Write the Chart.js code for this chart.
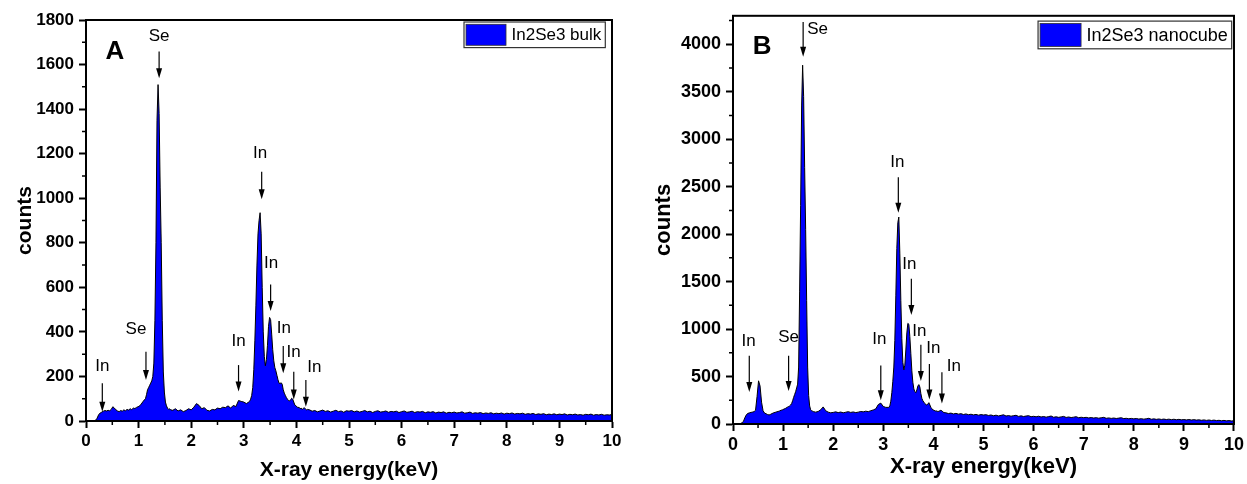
<!DOCTYPE html>
<html>
<head>
<meta charset="utf-8">
<script src="https://cdn.jsdelivr.net/npm/chart.js@4.4.1/dist/chart.umd.min.js"></script>
<style>
  body { margin: 0; background: #fff; }
  #wrap { position: relative; width: 1247px; height: 484px; }
  canvas { position: absolute; top: 0; }
</style>
</head>
<body>
<div id="wrap">
  <canvas id="chartA" width="630" height="484" style="left:0"></canvas>
  <canvas id="chartB" width="617" height="484" style="left:630px"></canvas>
</div>
<script>
// energy grid (keV), finer around the peaks
function range(a, b, step) {
	var out = [];
	var n = Math.round((b - a) / step) + 1;
	for (var i = 0; i < n; i++) out.push(Math.round((a + i * step) * 100) / 100);
	return out;
}
var energyLow  = range(0, 1.11, 0.03);
var energySe   = range(1.13, 1.61, 0.02);
var energyMid  = range(1.65, 3.05, 0.05);
var energyIn   = range(3.11, 4.21, 0.02);
var energyTail = range(4.25, 10, 0.05);

// panel A : In2Se3 bulk
var countsA_low = [0,0,0,0,0,0,3,12,28,36,40,44,47,45,48,46,52,64,58,50,45,42,47,44,50,46,52,49,55,51,58,56,61,64,68,76,86,95];
var countsA_se = [100,118,140,150,160,170,180,200,260,450,800,1350,1510,1380,1050,800,450,220,130,85,68,58,52,55,50];
var countsA_mid = [48,55,45,50,42,47,55,50,62,78,70,55,60,48,45,52,50,58,55,62,60,68,58,70,65,92,88,85,78];
var countsA_in = [88,98,115,150,230,360,520,700,840,900,935,840,600,400,290,248,275,340,425,465,
	455,390,320,270,240,225,205,185,170,168,172,165,140,125,115,105,98,92,90,95,
	102,98,85,72,68,64,60,62,55,58,52,56,60,54,50,52];
var countsA_tail = [50,44,47,41,45,49,43,46,40,44,48,42,45,39,46,44,
	47,41,45,40,43,47,41,44,38,43,46,40,42,45,39,43,41,44,38,42,
	45,39,41,44,38,42,40,43,37,41,39,42,36,40,38,41,35,39,37,40,
	36,38,41,35,37,40,34,37,35,38,33,36,34,37,32,35,33,36,31,35,
	33,36,31,34,32,35,30,33,31,34,29,32,30,33,28,31,29,32,28,31,
	29,32,27,30,28,31,27,29,26,30,28,31,26,29,27,30,26,28,27,29];

// panel B : In2Se3 nanocube
var countsB_low = [0,0,0,0,0,5,12,30,70,100,112,118,122,126,130,145,290,455,400,230,140,115,108,100,95,102,110,118,122,128,132,138,145,150,158,165,175,185];
var countsB_se = [190,200,215,245,280,310,340,380,420,600,1400,2300,3350,3780,3450,2700,2050,1300,600,300,190,150,140,135,130];
var countsB_mid = [125,132,150,180,140,125,118,122,128,120,126,118,124,130,122,127,120,125,132,128,135,130,140,148,160,205,220,185,175];
var countsB_in = [175,190,240,330,450,600,880,1350,1850,2120,2180,1800,1300,900,650,570,620,780,960,1060,
	1050,920,740,560,440,370,340,330,360,400,415,390,320,270,245,230,215,205,200,210,
	225,200,175,160,150,145,140,135,138,130,135,140,145,138,128,120];
var countsB_tail = [118,110,115,106,112,104,109,100,106,98,103,96,101,93,99,95,
	98,90,95,87,93,85,91,97,84,89,82,88,92,80,86,79,84,88,77,81,
	76,82,74,79,72,78,84,71,76,70,75,80,69,74,68,72,77,66,71,67,
	70,64,68,63,67,61,66,70,60,64,59,63,58,62,66,57,60,55,59,54,
	58,52,56,51,55,60,50,54,49,53,48,52,47,51,46,50,45,49,44,47,
	43,47,42,46,41,44,39,43,38,42,37,41,36,39,34,38,33,36,32,34];

var xTicks = [0,1,2,3,4,5,6,7,8,9,10];
var yTicksA = [0,200,400,600,800,1000,1200,1400,1600,1800];
var yTicksB = [0,500,1000,1500,2000,2500,3000,3500,4000];

// annotations: [text, textX, textY, arrowX, arrowFrom, arrowTip]
var notesA = [
	['Se', 1.39, 1725, 1.39, 1659, 1538],
	['In', 3.31, 1201, 3.34, 1119, 995],
	['In', 3.52, 710, 3.51, 613, 494],
	['In', 3.76, 416, 3.75, 337, 214],
	['In', 3.945, 308, 3.95, 221, 97],
	['In', 4.34, 239, 4.18, 184, 64],
	['In', 0.31, 247, 0.31, 169, 42],
	['Se', 0.95, 412, 1.14, 311, 184],
	['In', 2.90, 359, 2.90, 251, 132]
];
var notesB = [
	['Se', 1.69, 4153, 1.40, 4234, 3868],
	['In', 3.28, 2755, 3.30, 2598, 2226],
	['In', 3.52, 1683, 3.56, 1531, 1148],
	['In', 3.72, 981, 3.75, 835, 452],
	['In', 4.00, 800, 3.92, 633, 258],
	['In', 4.41, 605, 4.17, 546, 216],
	['In', 0.31, 869, 0.325, 720, 337],
	['Se', 1.11, 918, 1.11, 720, 347],
	['In', 2.92, 894, 2.95, 616, 250]
];

var FONT = 'Liberation Sans, Arial, sans-serif';

function joinPoints(xs, ys) {
	var pts = [];
	for (var i = 0; i < xs.length; i++) pts.push({x: xs[i], y: ys[i]});
	return pts;
}

var energy = [].concat(energyLow, energySe, energyMid, energyIn, energyTail);
var countsA = [].concat(countsA_low, countsA_se, countsA_mid, countsA_in, countsA_tail);
var countsB = [].concat(countsB_low, countsB_se, countsB_mid, countsB_in, countsB_tail);

var decoPlugin = {
	id: 'deco',
	beforeDatasetsDraw: function(chart) {
		var o = chart.options.plugins.deco;
		var ctx = chart.ctx, xs = chart.scales.x, ys = chart.scales.y;
		ctx.save();
		ctx.fillStyle = '#000';
		ctx.strokeStyle = '#000';
		ctx.textAlign = 'center';
		ctx.textBaseline = 'middle';
		ctx.font = '17px ' + FONT;
		o.notes.forEach(function(n) {
			ctx.fillText(n[0], xs.getPixelForValue(n[1]), ys.getPixelForValue(n[2]));
			var ax = xs.getPixelForValue(n[3]);
			var y0 = ys.getPixelForValue(n[4]);
			var y1 = ys.getPixelForValue(n[5]);
			ctx.lineWidth = 1.2;
			ctx.beginPath();
			ctx.moveTo(ax, y0);
			ctx.lineTo(ax, y1 - 8);
			ctx.stroke();
			ctx.beginPath();
			ctx.moveTo(ax, y1);
			ctx.lineTo(ax - 3, y1 - 10);
			ctx.lineTo(ax + 3, y1 - 10);
			ctx.closePath();
			ctx.fill();
		});
		// panel letter
		ctx.font = 'bold 26px ' + FONT;
		ctx.fillText(o.letter[0], xs.getPixelForValue(o.letter[1]), ys.getPixelForValue(o.letter[2]));
		ctx.restore();
	},
	afterDraw: function(chart) {
		var o = chart.options.plugins.deco;
		var ctx = chart.ctx, a = chart.chartArea, xs = chart.scales.x, ys = chart.scales.y;
		ctx.save();
		// frame
		ctx.strokeStyle = '#000';
		ctx.lineWidth = 2;
		ctx.strokeRect(a.left, a.top, a.right - a.left, a.bottom - a.top);
		// minor ticks
		ctx.lineWidth = 1.5;
		ctx.beginPath();
		for (var i = 0; i < xTicks.length - 1; i++) {
			var px = xs.getPixelForValue((xTicks[i] + xTicks[i + 1]) / 2);
			ctx.moveTo(px, a.bottom);
			ctx.lineTo(px, a.bottom + 4);
		}
		for (var v = o.minor; v <= ys.max; v += o.minor) {
			if (v % o.major === 0) continue;
			var py = ys.getPixelForValue(v);
			ctx.moveTo(a.left, py);
			ctx.lineTo(a.left - 4, py);
		}
		ctx.stroke();
		// legend
		var lg = o.legend;
		ctx.font = lg.size + 'px ' + FONT;
		var tw = ctx.measureText(lg.text).width;
		var right = a.right - lg.inset;
		var left = right - (2 + lg.sw + 5.5 + tw + 4);
		var top = a.top + lg.top;
		ctx.fillStyle = '#fff';
		ctx.fillRect(left, top, right - left, lg.h);
		ctx.strokeStyle = '#333';
		ctx.lineWidth = 1.2;
		ctx.strokeRect(left, top, right - left, lg.h);
		ctx.fillStyle = '#0000FF';
		ctx.fillRect(left + 2, top + 2.3, lg.sw, lg.h - 4.6);
		ctx.lineWidth = 0.8;
		ctx.strokeRect(left + 2, top + 2.3, lg.sw, lg.h - 4.6);
		ctx.fillStyle = '#000';
		ctx.textAlign = 'left';
		ctx.textBaseline = 'middle';
		ctx.fillText(lg.text, left + 2 + lg.sw + 5.5, top + lg.h / 2 + 1);
		ctx.restore();
	}
};

function makeChart(id, p) {
	return new Chart(document.getElementById(id), {
		type: 'line',
		data: {
			datasets: [{
				label: p.label,
				data: joinPoints(energy, p.counts),
				borderColor: '#000',
				borderWidth: 1,
				backgroundColor: '#0000FF',
				fill: 'origin',
				pointRadius: 0,
				tension: 0
			}]
		},
		options: {
			responsive: false,
			animation: false,
			devicePixelRatio: 1,
			layout: { padding: p.pad },
			plugins: {
				legend: { display: false },
				tooltip: { enabled: false },
				deco: { notes: p.notes, letter: p.letter, minor: p.minor, major: p.major, legend: p.legend }
			},
			scales: {
				x: {
					type: 'linear',
					min: 0, max: 10,
					afterFit: function(s) { s.height = p.xHeight; },
					afterBuildTicks: function(s) { s.ticks = xTicks.map(function(v) { return {value: v}; }); },
					border: { display: true, color: '#000', width: 2 },
					grid: { drawOnChartArea: false, drawTicks: true, tickLength: 7, tickWidth: 2, tickColor: '#000' },
					ticks: { color: '#000', font: { family: FONT, size: p.tickSize, weight: 'bold' }, padding: 3, maxRotation: 0,
						callback: function(v) { return String(v); } },
					title: { display: true, text: 'X-ray energy(keV)', color: '#000',
						font: { family: FONT, size: p.titleSize, weight: 'bold' }, padding: { top: 0, bottom: p.xTitlePad } }
				},
				y: {
					min: 0, max: p.yMax,
					afterFit: function(s) { s.width = p.yWidth; },
					afterBuildTicks: function(s) { s.ticks = p.yTicks.map(function(v) { return {value: v}; }); },
					border: { display: true, color: '#000', width: 2 },
					grid: { drawOnChartArea: false, drawTicks: true, tickLength: 7, tickWidth: 2, tickColor: '#000' },
					ticks: { color: '#000', font: { family: FONT, size: p.tickSize, weight: 'bold' }, padding: p.yTickPad,
						callback: function(v) { return String(v); } },
					title: { display: true, text: 'counts', color: '#000',
						font: { family: FONT, size: p.titleSize, weight: 'bold' }, padding: { top: p.yTitlePad, bottom: 0 } }
				}
			}
		},
		plugins: [decoPlugin]
	});
}

makeChart('chartA', {
	label: 'In2Se3 bulk',
	counts: countsA,
	notes: notesA,
	letter: ['A', 0.55, 1656],
	yMax: 1800, yTicks: yTicksA, major: 200, minor: 100,
	pad: { top: 20, right: 18, left: 0, bottom: 0 },
	xHeight: 63, yWidth: 86,
	tickSize: 17, titleSize: 21, xTitlePad: 1, yTitlePad: 13, yTickPad: 5,
	legend: { text: 'In2Se3 bulk', size: 17, inset: 6.7, top: 2, h: 25.6, sw: 40 }
});

makeChart('chartB', {
	label: 'In2Se3 nanocube',
	counts: countsB,
	notes: notesB,
	letter: ['B', 0.58, 3976],
	yMax: 4300, yTicks: yTicksB, major: 500, minor: 250,
	pad: { top: 12, right: 13, left: 0, bottom: 0 },
	xHeight: 60, yWidth: 103,
	tickSize: 18, titleSize: 22, xTitlePad: 4, yTitlePad: 21, yTickPad: 5,
	legend: { text: 'In2Se3 nanocube', size: 18, inset: 2.3, top: 5.3, h: 27.7, sw: 41 }
});
</script>
</body>
</html>
